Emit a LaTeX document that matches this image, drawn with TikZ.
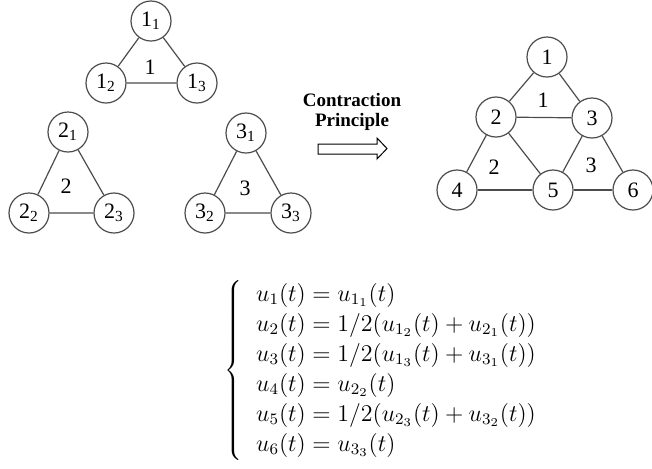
\documentclass[tikz,border=0pt]{standalone}
\usepackage{fontspec}
\setmainfont{Liberation Serif}
\begin{document}
\begin{tikzpicture}[x=0.5pt, y=-0.5pt,
    vtx/.style={circle, draw=black!70, line width=0.6pt, minimum size=20pt, inner sep=0pt, font=\fontsize{11}{12}\selectfont},
    elem/.style={inner sep=0pt, font=\fontsize{11}{12}\selectfont},
    edge/.style={draw=black!70, line width=0.6pt}]
    \useasboundingbox (0,0) rectangle (652,468);

    % 单元 1
    \node[vtx] (p11) at (151,21) {1\textsubscript{1}};
    \node[vtx] (p12) at (106,83) {1\textsubscript{2}};
    \node[vtx] (p13) at (197,83) {1\textsubscript{3}};
    \node[elem] (el1) at (150,67) {1};

    % 单元 2
    \node[vtx] (p21) at (68,132) {2\textsubscript{1}};
    \node[vtx] (p22) at (29,213) {2\textsubscript{2}};
    \node[vtx] (p23) at (114,213) {2\textsubscript{3}};
    \node[elem] (el2) at (66,186) {2};

    % 单元 3
    \node[vtx] (p31) at (246,133) {3\textsubscript{1}};
    \node[vtx] (p32) at (205,213) {3\textsubscript{2}};
    \node[vtx] (p33) at (291,213) {3\textsubscript{3}};
    \node[elem] (el3) at (245,188) {3};

    \foreach \i in {1,2,3} {
        \draw[edge] (p\i1) -- (p\i2) -- (p\i3) -- (p\i1);
    }

    % 箭头
    \node[align=center, inner sep=0pt, font=\fontsize{9.5}{10}\selectfont\bfseries] (cp) at (352,112) {Contraction\\Principle};
    \draw[line width=0.5pt] (318,144) -- (377,144) -- (377,138) -- (387,148.5)
        -- (377,159) -- (377,154) -- (318,154) -- cycle;

    % 整体网格
    \node[vtx] (g1) at (547,57) {1};
    \node[vtx] (g2) at (496,117) {2};
    \node[vtx] (g3) at (592,118) {3};
    \node[vtx] (g4) at (457,190) {4};
    \node[vtx] (g5) at (553,190) {5};
    \node[vtx] (g6) at (633,190) {6};
    \node[elem] (ge1) at (543,100) {1};
    \node[elem] (ge2) at (494,167) {2};
    \node[elem] (ge3) at (591,165) {3};

    \foreach \a/\b in {1/2,1/3,2/3,2/4,2/5,3/5,3/6,4/5,5/6} {
        \draw[edge] (g\a) -- (g\b);
    }

    % 方程
    \node[anchor=west, inner sep=0pt] (eqs) at (224,370) {\fontsize{12}{15}\selectfont
        $\left\{\begin{array}{@{\hspace{7pt}}l}
        u_1(t) = u_{1_1}(t)\\
        u_2(t) = 1/2(u_{1_2}(t) + u_{2_1}(t))\\
        u_3(t) = 1/2(u_{1_3}(t) + u_{3_1}(t))\\
        u_4(t) = u_{2_2}(t)\\
        u_5(t) = 1/2(u_{2_3}(t) + u_{3_2}(t))\\
        u_6(t) = u_{3_3}(t)
        \end{array}\right.$};

\end{tikzpicture}
\end{document}
